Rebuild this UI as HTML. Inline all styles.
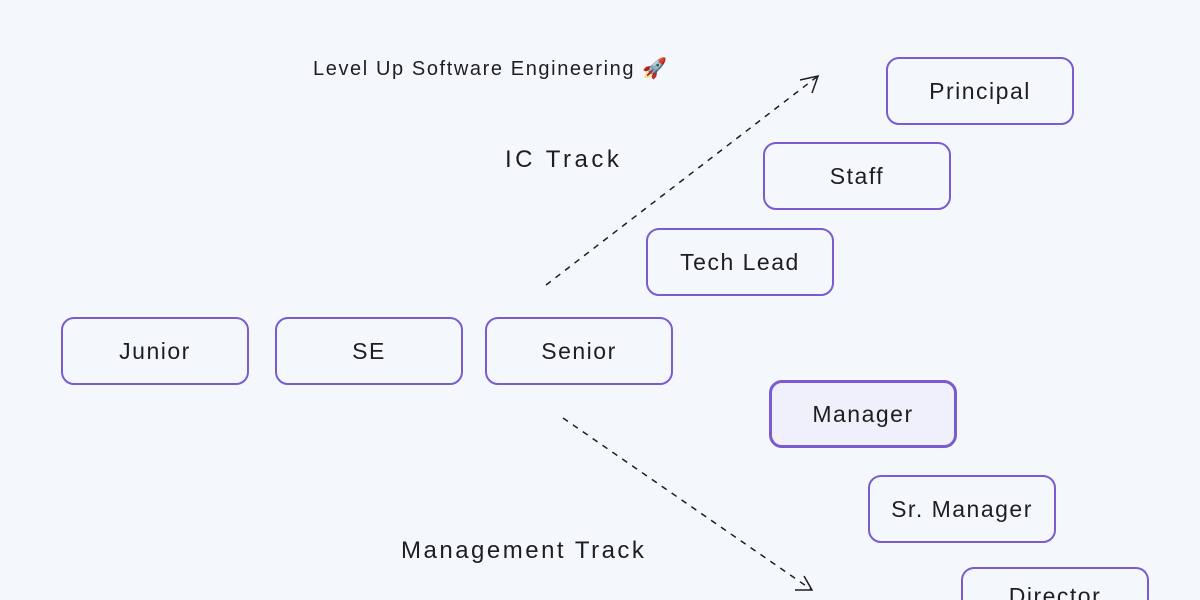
<!DOCTYPE html>
<html style="overflow:hidden;width:1200px;height:600px"><head><style>
body{margin:0;width:1200px;height:600px;overflow:hidden;background:#f4f8fc;font-family:"Liberation Sans",sans-serif;position:relative;}
.b{position:absolute;width:184px;height:64px;border:2px solid #7a5cd0;border-radius:13px;box-sizing:content-box;display:flex;align-items:center;justify-content:center;font-size:23px;color:#1e1e1e;letter-spacing:1.5px;}
.t{position:absolute;color:#1e1e1e;white-space:nowrap;}
</style></head><body>
<svg width="1200" height="600" style="position:absolute;left:0;top:0">
<g stroke="#1e1e1e" stroke-width="1.5" fill="none">
<line x1="546" y1="285" x2="818" y2="76" stroke-dasharray="6,6"/>
<polyline points="800,80 818,76 812,93"/>
<line x1="563" y1="418" x2="812" y2="590" stroke-dasharray="6,6"/>
<polyline points="795,590 812,590 804,576"/>
</g></svg>
<div class="t" style="left:313px;top:56px;font-size:20px;letter-spacing:1.6px">Level Up Software Engineering 🚀</div>
<div class="t" style="left:505px;top:146px;font-size:24px;letter-spacing:3.5px">IC Track</div>
<div class="t" style="left:401px;top:537px;font-size:24px;letter-spacing:2.5px">Management Track</div>
<div class="b" style="left:61px;top:317px">Junior</div>
<div class="b" style="left:275px;top:317px">SE</div>
<div class="b" style="left:485px;top:317px">Senior</div>
<div class="b" style="left:646px;top:228px">Tech Lead</div>
<div class="b" style="left:763px;top:142px">Staff</div>
<div class="b" style="left:886px;top:57px">Principal</div>
<div class="b" style="left:769px;top:380px;background:#f0effc;border-width:3px;width:182px;height:62px">Manager</div>
<div class="b" style="left:868px;top:475px">Sr. Manager</div>
<div class="b" style="left:961px;top:567px;height:31px;border-bottom:none;border-radius:13px 13px 0 0;overflow:hidden;align-items:flex-start"><span style="margin-top:14px">Director</span></div>
</body></html>
